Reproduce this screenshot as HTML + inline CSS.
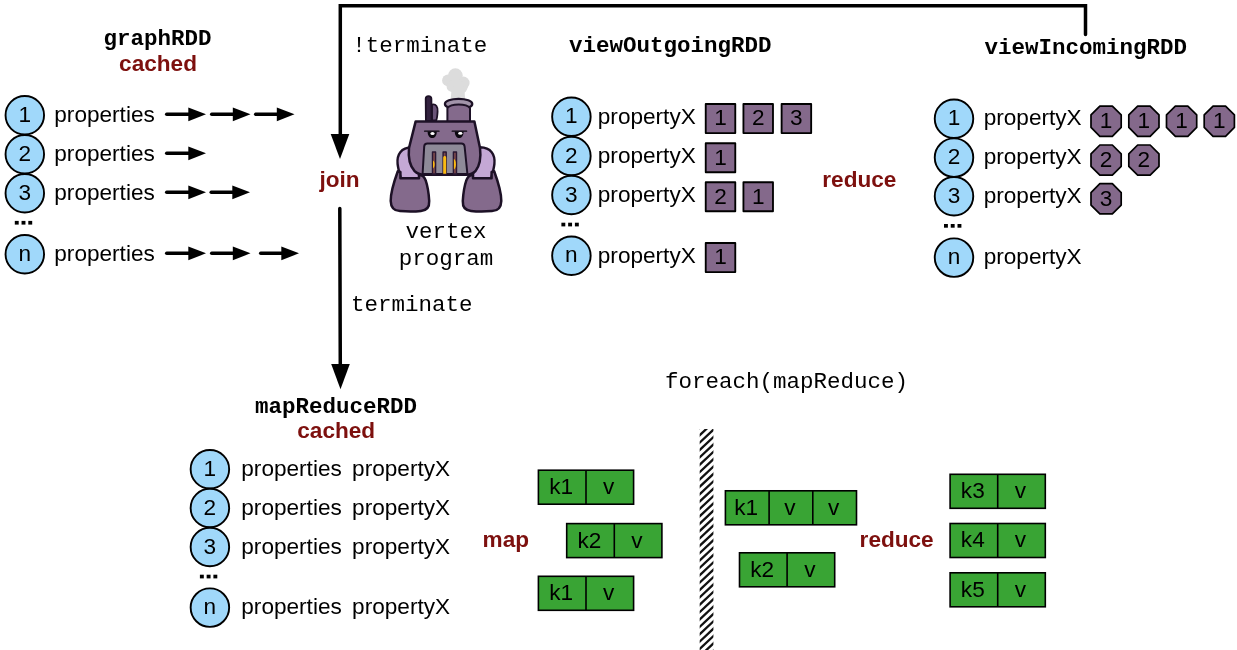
<!DOCTYPE html>
<html><head><meta charset="utf-8"><title>Spark graph computer</title>
<style>
html,body{margin:0;padding:0;background:#fff;}
body{width:1237px;height:650px;overflow:hidden;font-family:"Liberation Sans",sans-serif;}
svg{display:block}
</style></head><body>
<svg width="1237" height="650" viewBox="0 0 1237 650" style="will-change:transform">
<rect width="1237" height="650" fill="#fff"/>
<g id="robot" stroke-linejoin="round" stroke-linecap="round">
  <!-- smoke -->
  <g fill="#dcdcdc" stroke="none">
    <circle cx="455.4" cy="75.6" r="7.3"/>
    <circle cx="448" cy="80.4" r="5.9"/>
    <circle cx="463.3" cy="82.9" r="6.3"/>
    <circle cx="455.5" cy="84.5" r="6.5"/>
    <circle cx="452.2" cy="86.4" r="5.6"/>
    <circle cx="462" cy="87.2" r="5.6"/>
    <path d="M450.6,86 C452,91 451,95 450.6,100 L465.4,100 C464.6,95 464.4,91 465.6,87 Z"/>
  </g>
  <!-- antenna -->
  <path d="M432,120.5 L432,104.5 C436,103.5 438,107 437.6,111.5 C437.4,115.5 437,118.5 436.2,120.5 Z" fill="#6a5478" stroke="#1d1126" stroke-width="1.8"/>
  <path d="M425.9,121 L425.7,98.8 C425.7,95.2 431.3,95.2 431.4,98.8 L431.6,121 Z" fill="#33223f" stroke="#1d1126" stroke-width="1.8"/>
  <!-- chimney -->
  <ellipse cx="458.6" cy="104" rx="13.7" ry="5.2" fill="#a294aa" stroke="#1d1126" stroke-width="2.2"/>
  <path d="M447.4,122 L447.4,108.2 C451,103.4 466.4,103.4 470,108.2 L470,122 Z" fill="#846a8c" stroke="#1d1126" stroke-width="2"/>
  <!-- arms (behind body) -->
  <path d="M412,147.3 C401,147.5 396.6,154.5 397.6,164 C398.2,169 399.6,174 401,178.6 L419.5,178.6 L416,150 Z" fill="#c4a8d5" stroke="#1d1126" stroke-width="2.4"/>
  <path d="M412,147.3 C401,147.5 396.6,154.5 397.6,164 C398.2,169 399.6,174 401,178.6 L419.5,178.6 L416,150 Z" fill="#c4a8d5" stroke="#1d1126" stroke-width="2.4" transform="translate(892,0) scale(-1,1)"/>
  <!-- body -->
  <path d="M415.6,121.6 L474.4,121.6 L480,148 C481.2,158 479.6,166 475.4,171.2 C473,173.8 470.4,174.7 466.6,174.7 L424,174.7 C420,174.7 417.2,173.8 414.6,171.2 C410,166 408,158 409,148 Z" fill="#846a8c" stroke="#1d1126" stroke-width="2.5"/>
  <!-- feet -->
  <path id="foot" d="M397.8,171.2 C394.6,180 390.5,192 390.7,201 C390.9,207.8 394,210.9 400,211.1 C406,211.6 416,211.6 421,210.9 C427,210.4 429.5,207.3 429.2,201 C428.8,194 427.6,186 425.6,180.2 C424.4,177 422.6,175.4 420.2,175 L419,175.3 L419,178.3 L400.4,178.3 L400.4,172 Z" fill="#846a8c" stroke="#1d1126" stroke-width="2.5"/>
  <path d="M397.8,171.2 C394.6,180 390.5,192 390.7,201 C390.9,207.8 394,210.9 400,211.1 C406,211.6 416,211.6 421,210.9 C427,210.4 429.5,207.3 429.2,201 C428.8,194 427.6,186 425.6,180.2 C424.4,177 422.6,175.4 420.2,175 L419,175.3 L419,178.3 L400.4,178.3 L400.4,172 Z" fill="#846a8c" stroke="#1d1126" stroke-width="2.5" transform="translate(892,0) scale(-1,1)"/>
  <!-- grille -->
  <path d="M422.6,174 L424.2,146.5 C424.3,144.6 425.4,143.6 427.4,143.6 L461.4,143.6 C463.4,143.6 464.4,144.6 464.6,146.5 L467.4,174 Z" fill="#8e8a98" stroke="#1d1126" stroke-width="2"/>
  <g stroke="#2a1833" stroke-width="1.4" fill="#7b4a4c">
    <rect x="432.5" y="152" width="3.1" height="22"/>
    <rect x="443.1" y="152" width="3.1" height="22"/>
    <rect x="453.4" y="152" width="3.1" height="22"/>
  </g>
  <g fill="#fbbb12" stroke="none">
    <path d="M443.2,173.8 L443.2,158 C443.2,155.4 446.2,155.4 446.2,158 L446.2,173.8 Z"/>
    <path d="M433,160.6 C435.2,162 435.2,167 433,168.4 Z"/>
    <path d="M453.9,158.8 C456.6,160.6 456.6,168 453.9,169.6 Z"/>
  </g>
  <!-- eyes -->
  <g>
    <path d="M427.6,131.4 C427.6,140.2 436.8,140.2 436.8,131.4 Z" fill="#0c0810" stroke="none"/>
    <path d="M454.8,131.4 C454.8,140.2 463.6,140.2 463.6,131.4 Z" fill="#0c0810" stroke="none"/>
    <ellipse cx="432.5" cy="133.4" rx="2.1" ry="1.5" fill="#fff"/>
    <ellipse cx="460.3" cy="133.2" rx="2.1" ry="1.5" fill="#fff"/>
    <line x1="424.6" y1="131.2" x2="439" y2="131.2" stroke="#0c0810" stroke-width="1.3"/>
    <line x1="452.2" y1="131.2" x2="466.6" y2="131.2" stroke="#0c0810" stroke-width="1.3"/>
  </g>
</g>

<text x="157.5" y="45" font-family='"Liberation Mono", monospace' font-size="22.5" font-weight="bold" fill="#000" text-anchor="middle" >graphRDD</text>
<text x="158" y="70.5" font-family='"Liberation Sans", sans-serif' font-size="22.6" font-weight="bold" fill="#7d100e" text-anchor="middle" >cached</text>
<circle cx="24.8" cy="115.2" r="19.25" fill="#a0d8fa" stroke="#000" stroke-width="1.9"/>
<text x="24.8" y="121.8" font-family='"Liberation Sans", sans-serif' font-size="22.6" font-weight="normal" fill="#000" text-anchor="middle" >1</text>
<text x="54.3" y="121.8" font-family='"Liberation Sans", sans-serif' font-size="22.6" font-weight="normal" fill="#000" text-anchor="start" >properties</text>
<circle cx="24.8" cy="154.2" r="19.25" fill="#a0d8fa" stroke="#000" stroke-width="1.9"/>
<text x="24.8" y="160.79999999999998" font-family='"Liberation Sans", sans-serif' font-size="22.6" font-weight="normal" fill="#000" text-anchor="middle" >2</text>
<text x="54.3" y="160.79999999999998" font-family='"Liberation Sans", sans-serif' font-size="22.6" font-weight="normal" fill="#000" text-anchor="start" >properties</text>
<circle cx="24.8" cy="193.2" r="19.25" fill="#a0d8fa" stroke="#000" stroke-width="1.9"/>
<text x="24.8" y="199.79999999999998" font-family='"Liberation Sans", sans-serif' font-size="22.6" font-weight="normal" fill="#000" text-anchor="middle" >3</text>
<text x="54.3" y="199.79999999999998" font-family='"Liberation Sans", sans-serif' font-size="22.6" font-weight="normal" fill="#000" text-anchor="start" >properties</text>
<circle cx="24.8" cy="254.2" r="19.25" fill="#a0d8fa" stroke="#000" stroke-width="1.9"/>
<text x="24.8" y="260.8" font-family='"Liberation Sans", sans-serif' font-size="22.6" font-weight="normal" fill="#000" text-anchor="middle" >n</text>
<text x="54.3" y="260.8" font-family='"Liberation Sans", sans-serif' font-size="22.6" font-weight="normal" fill="#000" text-anchor="start" >properties</text>
<rect x="14.80" y="220.90" width="3.9" height="3.7" fill="#000"/>
<rect x="21.55" y="220.90" width="3.9" height="3.7" fill="#000"/>
<rect x="28.30" y="220.90" width="3.9" height="3.7" fill="#000"/>
<line x1="166.7" y1="114.35000000000001" x2="190.3" y2="114.35000000000001" stroke="#000" stroke-width="3.5" stroke-linecap="round"/>
<polygon points="206.0,114.35000000000001 188.3,107.55000000000001 188.3,121.15" fill="#000"/>
<line x1="211.7" y1="114.35000000000001" x2="234.8" y2="114.35000000000001" stroke="#000" stroke-width="3.5" stroke-linecap="round"/>
<polygon points="250.5,114.35000000000001 232.8,107.55000000000001 232.8,121.15" fill="#000"/>
<line x1="255.7" y1="114.35000000000001" x2="278.8" y2="114.35000000000001" stroke="#000" stroke-width="3.5" stroke-linecap="round"/>
<polygon points="294.5,114.35000000000001 276.8,107.55000000000001 276.8,121.15" fill="#000"/>
<line x1="166.7" y1="153.35" x2="190.3" y2="153.35" stroke="#000" stroke-width="3.5" stroke-linecap="round"/>
<polygon points="206.0,153.35 188.3,146.54999999999998 188.3,160.15" fill="#000"/>
<line x1="166.7" y1="192.35" x2="190.3" y2="192.35" stroke="#000" stroke-width="3.5" stroke-linecap="round"/>
<polygon points="206.0,192.35 188.3,185.54999999999998 188.3,199.15" fill="#000"/>
<line x1="211.2" y1="192.35" x2="234.3" y2="192.35" stroke="#000" stroke-width="3.5" stroke-linecap="round"/>
<polygon points="250.0,192.35 232.3,185.54999999999998 232.3,199.15" fill="#000"/>
<line x1="166.7" y1="253.35" x2="190.3" y2="253.35" stroke="#000" stroke-width="3.5" stroke-linecap="round"/>
<polygon points="206.0,253.35 188.3,246.54999999999998 188.3,260.15" fill="#000"/>
<line x1="211.7" y1="253.35" x2="234.8" y2="253.35" stroke="#000" stroke-width="3.5" stroke-linecap="round"/>
<polygon points="250.5,253.35 232.8,246.54999999999998 232.8,260.15" fill="#000"/>
<line x1="260.7" y1="253.35" x2="283.3" y2="253.35" stroke="#000" stroke-width="3.5" stroke-linecap="round"/>
<polygon points="299.0,253.35 281.3,246.54999999999998 281.3,260.15" fill="#000"/>
<polyline points="1085.5,34.6 1085.5,5.8 340.3,5.8 340.3,136" fill="none" stroke="#000" stroke-width="3.5" stroke-linecap="round" stroke-linejoin="miter"/>
<polygon points="340,159 330.7,134 349.3,134" fill="#000"/>
<line x1="339.8" y1="208.5" x2="340.3" y2="366" stroke="#000" stroke-width="3.5" stroke-linecap="round"/>
<polygon points="340.5,389.3 331.2,364 349.8,364" fill="#000"/>
<text x="352.2" y="52" font-family='"Liberation Mono", monospace' font-size="22.5" font-weight="normal" fill="#000" text-anchor="start" >!terminate</text>
<text x="351.1" y="310.5" font-family='"Liberation Mono", monospace' font-size="22.5" font-weight="normal" fill="#000" text-anchor="start" >terminate</text>
<text x="319.5" y="187" font-family='"Liberation Sans", sans-serif' font-size="22.6" font-weight="bold" fill="#7d100e" text-anchor="start" >join</text>
<text x="446" y="238" font-family='"Liberation Mono", monospace' font-size="22.5" font-weight="normal" fill="#000" text-anchor="middle" >vertex</text>
<text x="446" y="264.5" font-family='"Liberation Mono", monospace' font-size="22.5" font-weight="normal" fill="#000" text-anchor="middle" >program</text>
<text x="569" y="52" font-family='"Liberation Mono", monospace' font-size="22.5" font-weight="bold" fill="#000" text-anchor="start" >viewOutgoingRDD</text>
<circle cx="571.4" cy="116.8" r="19.25" fill="#a0d8fa" stroke="#000" stroke-width="1.9"/>
<text x="571.4" y="123.39999999999999" font-family='"Liberation Sans", sans-serif' font-size="22.6" font-weight="normal" fill="#000" text-anchor="middle" >1</text>
<text x="597.8" y="123.5" font-family='"Liberation Sans", sans-serif' font-size="22.6" font-weight="normal" fill="#000" text-anchor="start" >propertyX</text>
<circle cx="571.4" cy="156" r="19.25" fill="#a0d8fa" stroke="#000" stroke-width="1.9"/>
<text x="571.4" y="162.6" font-family='"Liberation Sans", sans-serif' font-size="22.6" font-weight="normal" fill="#000" text-anchor="middle" >2</text>
<text x="597.8" y="162.7" font-family='"Liberation Sans", sans-serif' font-size="22.6" font-weight="normal" fill="#000" text-anchor="start" >propertyX</text>
<circle cx="571.4" cy="195" r="19.25" fill="#a0d8fa" stroke="#000" stroke-width="1.9"/>
<text x="571.4" y="201.6" font-family='"Liberation Sans", sans-serif' font-size="22.6" font-weight="normal" fill="#000" text-anchor="middle" >3</text>
<text x="597.8" y="201.7" font-family='"Liberation Sans", sans-serif' font-size="22.6" font-weight="normal" fill="#000" text-anchor="start" >propertyX</text>
<circle cx="571.4" cy="255.8" r="19.25" fill="#a0d8fa" stroke="#000" stroke-width="1.9"/>
<text x="571.4" y="262.40000000000003" font-family='"Liberation Sans", sans-serif' font-size="22.6" font-weight="normal" fill="#000" text-anchor="middle" >n</text>
<text x="597.8" y="262.5" font-family='"Liberation Sans", sans-serif' font-size="22.6" font-weight="normal" fill="#000" text-anchor="start" >propertyX</text>
<rect x="561.40" y="222.70" width="3.9" height="3.7" fill="#000"/>
<rect x="568.15" y="222.70" width="3.9" height="3.7" fill="#000"/>
<rect x="574.90" y="222.70" width="3.9" height="3.7" fill="#000"/>
<rect x="705.73" y="104.02" width="29.55" height="29.05" fill="#84698b" stroke="#000" stroke-width="1.85" stroke-linejoin="round"/>
<text x="720.5" y="125.35" font-family='"Liberation Sans", sans-serif' font-size="22.6" font-weight="normal" fill="#000" text-anchor="middle" >1</text>
<rect x="743.43" y="104.02" width="29.55" height="29.05" fill="#84698b" stroke="#000" stroke-width="1.85" stroke-linejoin="round"/>
<text x="758.2" y="125.35" font-family='"Liberation Sans", sans-serif' font-size="22.6" font-weight="normal" fill="#000" text-anchor="middle" >2</text>
<rect x="781.62" y="104.02" width="29.55" height="29.05" fill="#84698b" stroke="#000" stroke-width="1.85" stroke-linejoin="round"/>
<text x="796.4" y="125.35" font-family='"Liberation Sans", sans-serif' font-size="22.6" font-weight="normal" fill="#000" text-anchor="middle" >3</text>
<rect x="705.73" y="143.22" width="29.55" height="29.05" fill="#84698b" stroke="#000" stroke-width="1.85" stroke-linejoin="round"/>
<text x="720.5" y="164.55" font-family='"Liberation Sans", sans-serif' font-size="22.6" font-weight="normal" fill="#000" text-anchor="middle" >1</text>
<rect x="705.73" y="182.22" width="29.55" height="29.05" fill="#84698b" stroke="#000" stroke-width="1.85" stroke-linejoin="round"/>
<text x="720.5" y="203.55" font-family='"Liberation Sans", sans-serif' font-size="22.6" font-weight="normal" fill="#000" text-anchor="middle" >2</text>
<rect x="743.43" y="182.22" width="29.55" height="29.05" fill="#84698b" stroke="#000" stroke-width="1.85" stroke-linejoin="round"/>
<text x="758.2" y="203.55" font-family='"Liberation Sans", sans-serif' font-size="22.6" font-weight="normal" fill="#000" text-anchor="middle" >1</text>
<rect x="705.73" y="243.03" width="29.55" height="29.05" fill="#84698b" stroke="#000" stroke-width="1.85" stroke-linejoin="round"/>
<text x="720.5" y="264.35" font-family='"Liberation Sans", sans-serif' font-size="22.6" font-weight="normal" fill="#000" text-anchor="middle" >1</text>
<text x="822.3" y="187" font-family='"Liberation Sans", sans-serif' font-size="22.6" font-weight="bold" fill="#7d100e" text-anchor="start" >reduce</text>
<text x="984.5" y="53.8" font-family='"Liberation Mono", monospace' font-size="22.5" font-weight="bold" fill="#000" text-anchor="start" >viewIncomingRDD</text>
<circle cx="954" cy="118.7" r="19.25" fill="#a0d8fa" stroke="#000" stroke-width="1.9"/>
<text x="954" y="125.0" font-family='"Liberation Sans", sans-serif' font-size="22.6" font-weight="normal" fill="#000" text-anchor="middle" >1</text>
<text x="983.7" y="125.2" font-family='"Liberation Sans", sans-serif' font-size="22.6" font-weight="normal" fill="#000" text-anchor="start" >propertyX</text>
<circle cx="954" cy="157.6" r="19.25" fill="#a0d8fa" stroke="#000" stroke-width="1.9"/>
<text x="954" y="163.9" font-family='"Liberation Sans", sans-serif' font-size="22.6" font-weight="normal" fill="#000" text-anchor="middle" >2</text>
<text x="983.7" y="164.1" font-family='"Liberation Sans", sans-serif' font-size="22.6" font-weight="normal" fill="#000" text-anchor="start" >propertyX</text>
<circle cx="954" cy="196.3" r="19.25" fill="#a0d8fa" stroke="#000" stroke-width="1.9"/>
<text x="954" y="202.60000000000002" font-family='"Liberation Sans", sans-serif' font-size="22.6" font-weight="normal" fill="#000" text-anchor="middle" >3</text>
<text x="983.7" y="202.8" font-family='"Liberation Sans", sans-serif' font-size="22.6" font-weight="normal" fill="#000" text-anchor="start" >propertyX</text>
<circle cx="954" cy="257.6" r="19.25" fill="#a0d8fa" stroke="#000" stroke-width="1.9"/>
<text x="954" y="263.90000000000003" font-family='"Liberation Sans", sans-serif' font-size="22.6" font-weight="normal" fill="#000" text-anchor="middle" >n</text>
<text x="983.7" y="264.1" font-family='"Liberation Sans", sans-serif' font-size="22.6" font-weight="normal" fill="#000" text-anchor="start" >propertyX</text>
<rect x="944.00" y="224.00" width="3.9" height="3.7" fill="#000"/>
<rect x="950.75" y="224.00" width="3.9" height="3.7" fill="#000"/>
<rect x="957.50" y="224.00" width="3.9" height="3.7" fill="#000"/>
<polygon points="1099.85,106.10 1112.35,106.10 1121.20,114.95 1121.20,127.45 1112.35,136.30 1099.85,136.30 1091.00,127.45 1091.00,114.95" fill="#84698b" stroke="#000" stroke-width="1.7" stroke-linejoin="round"/>
<text x="1106.1" y="128.0" font-family='"Liberation Sans", sans-serif' font-size="22.6" font-weight="normal" fill="#000" text-anchor="middle" >1</text>
<polygon points="1137.65,106.10 1150.15,106.10 1159.00,114.95 1159.00,127.45 1150.15,136.30 1137.65,136.30 1128.80,127.45 1128.80,114.95" fill="#84698b" stroke="#000" stroke-width="1.7" stroke-linejoin="round"/>
<text x="1143.9" y="128.0" font-family='"Liberation Sans", sans-serif' font-size="22.6" font-weight="normal" fill="#000" text-anchor="middle" >1</text>
<polygon points="1175.35,106.10 1187.85,106.10 1196.70,114.95 1196.70,127.45 1187.85,136.30 1175.35,136.30 1166.50,127.45 1166.50,114.95" fill="#84698b" stroke="#000" stroke-width="1.7" stroke-linejoin="round"/>
<text x="1181.6" y="128.0" font-family='"Liberation Sans", sans-serif' font-size="22.6" font-weight="normal" fill="#000" text-anchor="middle" >1</text>
<polygon points="1213.05,106.10 1225.55,106.10 1234.40,114.95 1234.40,127.45 1225.55,136.30 1213.05,136.30 1204.20,127.45 1204.20,114.95" fill="#84698b" stroke="#000" stroke-width="1.7" stroke-linejoin="round"/>
<text x="1219.3" y="128.0" font-family='"Liberation Sans", sans-serif' font-size="22.6" font-weight="normal" fill="#000" text-anchor="middle" >1</text>
<polygon points="1099.85,145.00 1112.35,145.00 1121.20,153.85 1121.20,166.35 1112.35,175.20 1099.85,175.20 1091.00,166.35 1091.00,153.85" fill="#84698b" stroke="#000" stroke-width="1.7" stroke-linejoin="round"/>
<text x="1106.1" y="166.9" font-family='"Liberation Sans", sans-serif' font-size="22.6" font-weight="normal" fill="#000" text-anchor="middle" >2</text>
<polygon points="1137.65,145.00 1150.15,145.00 1159.00,153.85 1159.00,166.35 1150.15,175.20 1137.65,175.20 1128.80,166.35 1128.80,153.85" fill="#84698b" stroke="#000" stroke-width="1.7" stroke-linejoin="round"/>
<text x="1143.9" y="166.9" font-family='"Liberation Sans", sans-serif' font-size="22.6" font-weight="normal" fill="#000" text-anchor="middle" >2</text>
<polygon points="1099.85,183.70 1112.35,183.70 1121.20,192.55 1121.20,205.05 1112.35,213.90 1099.85,213.90 1091.00,205.05 1091.00,192.55" fill="#84698b" stroke="#000" stroke-width="1.7" stroke-linejoin="round"/>
<text x="1106.1" y="205.60000000000002" font-family='"Liberation Sans", sans-serif' font-size="22.6" font-weight="normal" fill="#000" text-anchor="middle" >3</text>
<text x="335.9" y="413" font-family='"Liberation Mono", monospace' font-size="22.5" font-weight="bold" fill="#000" text-anchor="middle" >mapReduceRDD</text>
<text x="336.2" y="438" font-family='"Liberation Sans", sans-serif' font-size="22.6" font-weight="bold" fill="#7d100e" text-anchor="middle" >cached</text>
<circle cx="209.9" cy="469.3" r="19.25" fill="#a0d8fa" stroke="#000" stroke-width="1.9"/>
<text x="209.9" y="475.90000000000003" font-family='"Liberation Sans", sans-serif' font-size="22.6" font-weight="normal" fill="#000" text-anchor="middle" >1</text>
<text x="241.3" y="475.90000000000003" font-family='"Liberation Sans", sans-serif' font-size="22.6" font-weight="normal" fill="#000" text-anchor="start" >properties</text>
<text x="352.1" y="475.90000000000003" font-family='"Liberation Sans", sans-serif' font-size="22.6" font-weight="normal" fill="#000" text-anchor="start" >propertyX</text>
<circle cx="209.9" cy="508" r="19.25" fill="#a0d8fa" stroke="#000" stroke-width="1.9"/>
<text x="209.9" y="514.6" font-family='"Liberation Sans", sans-serif' font-size="22.6" font-weight="normal" fill="#000" text-anchor="middle" >2</text>
<text x="241.3" y="514.6" font-family='"Liberation Sans", sans-serif' font-size="22.6" font-weight="normal" fill="#000" text-anchor="start" >properties</text>
<text x="352.1" y="514.6" font-family='"Liberation Sans", sans-serif' font-size="22.6" font-weight="normal" fill="#000" text-anchor="start" >propertyX</text>
<circle cx="209.9" cy="547" r="19.25" fill="#a0d8fa" stroke="#000" stroke-width="1.9"/>
<text x="209.9" y="553.6" font-family='"Liberation Sans", sans-serif' font-size="22.6" font-weight="normal" fill="#000" text-anchor="middle" >3</text>
<text x="241.3" y="553.6" font-family='"Liberation Sans", sans-serif' font-size="22.6" font-weight="normal" fill="#000" text-anchor="start" >properties</text>
<text x="352.1" y="553.6" font-family='"Liberation Sans", sans-serif' font-size="22.6" font-weight="normal" fill="#000" text-anchor="start" >propertyX</text>
<circle cx="209.9" cy="607.6" r="19.25" fill="#a0d8fa" stroke="#000" stroke-width="1.9"/>
<text x="209.9" y="614.2" font-family='"Liberation Sans", sans-serif' font-size="22.6" font-weight="normal" fill="#000" text-anchor="middle" >n</text>
<text x="241.3" y="614.2" font-family='"Liberation Sans", sans-serif' font-size="22.6" font-weight="normal" fill="#000" text-anchor="start" >properties</text>
<text x="352.1" y="614.2" font-family='"Liberation Sans", sans-serif' font-size="22.6" font-weight="normal" fill="#000" text-anchor="start" >propertyX</text>
<rect x="199.90" y="574.70" width="3.9" height="3.7" fill="#000"/>
<rect x="206.65" y="574.70" width="3.9" height="3.7" fill="#000"/>
<rect x="213.40" y="574.70" width="3.9" height="3.7" fill="#000"/>
<text x="665" y="388.3" font-family='"Liberation Mono", monospace' font-size="22.5" font-weight="normal" fill="#000" text-anchor="start" >foreach(mapReduce)</text>
<text x="482.6" y="546.7" font-family='"Liberation Sans", sans-serif' font-size="22.6" font-weight="bold" fill="#7d100e" text-anchor="start" >map</text>
<rect x="538.4" y="470.2" width="95.2" height="34" fill="#39a434" stroke="#000" stroke-width="1.6"/>
<text x="561.0999999999999" y="494.09999999999997" font-family='"Liberation Sans", sans-serif' font-size="22.6" font-weight="normal" fill="#000" text-anchor="middle" >k1</text>
<line x1="586.0" y1="470.2" x2="586.0" y2="504.2" stroke="#000" stroke-width="1.6"/>
<text x="608.6999999999999" y="494.09999999999997" font-family='"Liberation Sans", sans-serif' font-size="22.6" font-weight="normal" fill="#000" text-anchor="middle" >v</text>
<rect x="566.7" y="523.6" width="95.2" height="34" fill="#39a434" stroke="#000" stroke-width="1.6"/>
<text x="589.4" y="547.5" font-family='"Liberation Sans", sans-serif' font-size="22.6" font-weight="normal" fill="#000" text-anchor="middle" >k2</text>
<line x1="614.3000000000001" y1="523.6" x2="614.3000000000001" y2="557.6" stroke="#000" stroke-width="1.6"/>
<text x="637.0" y="547.5" font-family='"Liberation Sans", sans-serif' font-size="22.6" font-weight="normal" fill="#000" text-anchor="middle" >v</text>
<rect x="538.4" y="576.3" width="95.2" height="34" fill="#39a434" stroke="#000" stroke-width="1.6"/>
<text x="561.0999999999999" y="600.1999999999999" font-family='"Liberation Sans", sans-serif' font-size="22.6" font-weight="normal" fill="#000" text-anchor="middle" >k1</text>
<line x1="586.0" y1="576.3" x2="586.0" y2="610.3" stroke="#000" stroke-width="1.6"/>
<text x="608.6999999999999" y="600.1999999999999" font-family='"Liberation Sans", sans-serif' font-size="22.6" font-weight="normal" fill="#000" text-anchor="middle" >v</text>
<clipPath id="hc"><rect x="699.7" y="429.1" width="13.70" height="220.89999999999998"/></clipPath>
<g clip-path="url(#hc)" stroke="#111" stroke-width="2.3"><line x1="697.70" y1="422.34" x2="715.40" y2="405.70"/><line x1="697.70" y1="429.71" x2="715.40" y2="413.07"/><line x1="697.70" y1="437.08" x2="715.40" y2="420.44"/><line x1="697.70" y1="444.45" x2="715.40" y2="427.81"/><line x1="697.70" y1="451.82" x2="715.40" y2="435.18"/><line x1="697.70" y1="459.19" x2="715.40" y2="442.55"/><line x1="697.70" y1="466.56" x2="715.40" y2="449.92"/><line x1="697.70" y1="473.93" x2="715.40" y2="457.29"/><line x1="697.70" y1="481.30" x2="715.40" y2="464.66"/><line x1="697.70" y1="488.67" x2="715.40" y2="472.03"/><line x1="697.70" y1="496.04" x2="715.40" y2="479.40"/><line x1="697.70" y1="503.41" x2="715.40" y2="486.77"/><line x1="697.70" y1="510.78" x2="715.40" y2="494.14"/><line x1="697.70" y1="518.15" x2="715.40" y2="501.51"/><line x1="697.70" y1="525.52" x2="715.40" y2="508.88"/><line x1="697.70" y1="532.89" x2="715.40" y2="516.25"/><line x1="697.70" y1="540.26" x2="715.40" y2="523.62"/><line x1="697.70" y1="547.63" x2="715.40" y2="530.99"/><line x1="697.70" y1="555.00" x2="715.40" y2="538.36"/><line x1="697.70" y1="562.37" x2="715.40" y2="545.73"/><line x1="697.70" y1="569.74" x2="715.40" y2="553.10"/><line x1="697.70" y1="577.11" x2="715.40" y2="560.47"/><line x1="697.70" y1="584.48" x2="715.40" y2="567.84"/><line x1="697.70" y1="591.85" x2="715.40" y2="575.21"/><line x1="697.70" y1="599.22" x2="715.40" y2="582.58"/><line x1="697.70" y1="606.59" x2="715.40" y2="589.95"/><line x1="697.70" y1="613.96" x2="715.40" y2="597.32"/><line x1="697.70" y1="621.33" x2="715.40" y2="604.69"/><line x1="697.70" y1="628.70" x2="715.40" y2="612.06"/><line x1="697.70" y1="636.07" x2="715.40" y2="619.43"/><line x1="697.70" y1="643.44" x2="715.40" y2="626.80"/><line x1="697.70" y1="650.81" x2="715.40" y2="634.17"/><line x1="697.70" y1="658.18" x2="715.40" y2="641.54"/><line x1="697.70" y1="665.55" x2="715.40" y2="648.91"/></g>
<rect x="725.4" y="490.8" width="131.10000000000002" height="34" fill="#39a434" stroke="#000" stroke-width="1.6"/>
<text x="746.15" y="514.7" font-family='"Liberation Sans", sans-serif' font-size="22.6" font-weight="normal" fill="#000" text-anchor="middle" >k1</text>
<line x1="769.1" y1="490.8" x2="769.1" y2="524.8" stroke="#000" stroke-width="1.6"/>
<text x="789.85" y="514.7" font-family='"Liberation Sans", sans-serif' font-size="22.6" font-weight="normal" fill="#000" text-anchor="middle" >v</text>
<line x1="812.8" y1="490.8" x2="812.8" y2="524.8" stroke="#000" stroke-width="1.6"/>
<text x="833.55" y="514.7" font-family='"Liberation Sans", sans-serif' font-size="22.6" font-weight="normal" fill="#000" text-anchor="middle" >v</text>
<rect x="739.5" y="552.8" width="95.2" height="34" fill="#39a434" stroke="#000" stroke-width="1.6"/>
<text x="762.1999999999999" y="576.6999999999999" font-family='"Liberation Sans", sans-serif' font-size="22.6" font-weight="normal" fill="#000" text-anchor="middle" >k2</text>
<line x1="787.1" y1="552.8" x2="787.1" y2="586.8" stroke="#000" stroke-width="1.6"/>
<text x="809.8" y="576.6999999999999" font-family='"Liberation Sans", sans-serif' font-size="22.6" font-weight="normal" fill="#000" text-anchor="middle" >v</text>
<text x="859.6" y="547.2" font-family='"Liberation Sans", sans-serif' font-size="22.6" font-weight="bold" fill="#7d100e" text-anchor="start" >reduce</text>
<rect x="950.1" y="474.3" width="95.2" height="34" fill="#39a434" stroke="#000" stroke-width="1.6"/>
<text x="972.8" y="498.2" font-family='"Liberation Sans", sans-serif' font-size="22.6" font-weight="normal" fill="#000" text-anchor="middle" >k3</text>
<line x1="997.7" y1="474.3" x2="997.7" y2="508.3" stroke="#000" stroke-width="1.6"/>
<text x="1020.4" y="498.2" font-family='"Liberation Sans", sans-serif' font-size="22.6" font-weight="normal" fill="#000" text-anchor="middle" >v</text>
<rect x="950.1" y="523.5" width="95.2" height="34" fill="#39a434" stroke="#000" stroke-width="1.6"/>
<text x="972.8" y="547.4" font-family='"Liberation Sans", sans-serif' font-size="22.6" font-weight="normal" fill="#000" text-anchor="middle" >k4</text>
<line x1="997.7" y1="523.5" x2="997.7" y2="557.5" stroke="#000" stroke-width="1.6"/>
<text x="1020.4" y="547.4" font-family='"Liberation Sans", sans-serif' font-size="22.6" font-weight="normal" fill="#000" text-anchor="middle" >v</text>
<rect x="950.1" y="572.8" width="95.2" height="34" fill="#39a434" stroke="#000" stroke-width="1.6"/>
<text x="972.8" y="596.6999999999999" font-family='"Liberation Sans", sans-serif' font-size="22.6" font-weight="normal" fill="#000" text-anchor="middle" >k5</text>
<line x1="997.7" y1="572.8" x2="997.7" y2="606.8" stroke="#000" stroke-width="1.6"/>
<text x="1020.4" y="596.6999999999999" font-family='"Liberation Sans", sans-serif' font-size="22.6" font-weight="normal" fill="#000" text-anchor="middle" >v</text>
</svg>
</body></html>
